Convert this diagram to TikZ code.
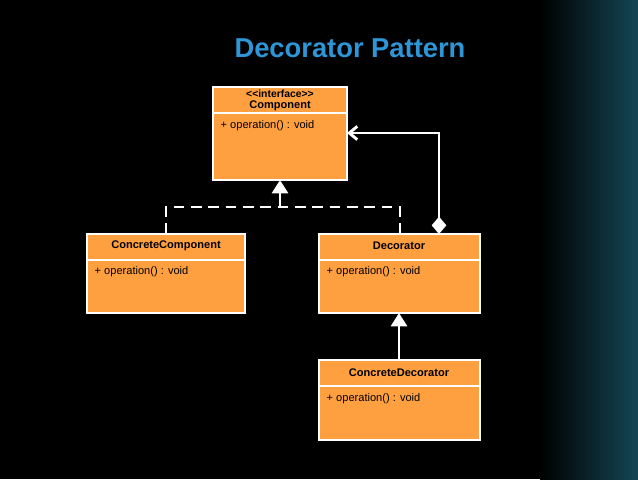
\documentclass[tikz,border=0pt]{standalone}
\usepackage{fontspec}
\setmainfont{Liberation Sans}
\usetikzlibrary{arrows.meta}
\definecolor{umlorange}{RGB}{255,160,64}
\definecolor{titleblue}{RGB}{46,150,214}
\definecolor{bgteal}{RGB}{20,70,85}
\tikzset{
  classbox/.style={draw=white, line width=1.6pt, fill=umlorange},
  classname/.style={font=\fontsize{8.3}{9}\selectfont\bfseries, align=center, inner sep=0pt},
  classop/.style={font=\fontsize{8.3}{9}\selectfont, anchor=west},
  conn/.style={draw=white, line width=2.2pt},
}
\begin{document}
\begin{tikzpicture}[x=0.75pt,y=0.75pt,yscale=-1,xscale=1]
%background
\fill[black] (0,0) rectangle (638,479);
\shade[left color=black, right color=bgteal] (540,0) rectangle (638,479);
\useasboundingbox (0,0) rectangle (638,479);

% Title
\node (title) at (350,48) {\fontsize{20.5}{24}\selectfont\bfseries\color{titleblue}Decorator Pattern};

% Classes
\draw[classbox] (213,87) rectangle (347,180);
\draw[white, line width=1.6pt] (213,113) -- (347,113);
\node[classname, font=\fontsize{7.8}{9}\selectfont\bfseries] (stereotype) at (280,94) {{<}{<}interface{>}{>}};
\node[classname] (componentname) at (280,106) {Component};
\node[classop] (componentop) at (216,126) {+ operation() : void};

\draw[classbox] (87,234) rectangle (245,313);
\draw[white, line width=1.6pt] (87,260) -- (245,260);
\node[classname] (concretecomponent) at (166,246) {ConcreteComponent};
\node[classop] (concretecomponentop) at (90,272) {+ operation() : void};

\draw[classbox] (319,234) rectangle (480,313);
\draw[white, line width=1.6pt] (319,260) -- (480,260);
\node[classname] (decorator) at (399,246) {Decorator};
\node[classop] (decoratorop) at (322,272) {+ operation() : void};

\draw[classbox] (319,360) rectangle (480,440);
\draw[white, line width=1.6pt] (319,386) -- (480,386);
\node[classname] (concretedecorator) at (399,373) {ConcreteDecorator};
\node[classop] (concretedecoratorop) at (322,399) {+ operation() : void};

% Connectors
\coordinate (ccTop) at (166,234);
\coordinate (decTop) at (400,234);
\coordinate (compBottom) at (280,180);
\coordinate (aggStart) at (439,234);
\coordinate (compRight) at (347,133);
\coordinate (cdTop) at (399,360);
\coordinate (decBottom) at (399,313);
\draw[conn, dash pattern=on 8pt off 5pt] (ccTop) |- (280,207) -| (decTop);
\draw[conn, -{Triangle[open, length=10pt, width=12pt, fill=white]}] (280,207) -- (compBottom);
\draw[conn, {Diamond[length=13pt, width=11pt, fill=white]}-{Straight Barb[length=6pt, width=10pt]}] (aggStart) |- (compRight);
\draw[conn, -{Triangle[open, length=10pt, width=12pt, fill=white]}] (cdTop) -- (decBottom);
\end{tikzpicture}
\end{document}
